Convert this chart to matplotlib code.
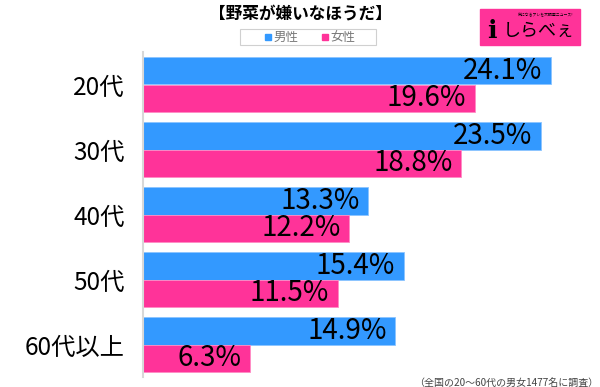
import matplotlib
matplotlib.use("Agg")
import matplotlib.pyplot as plt
from matplotlib.patches import Rectangle

plt.rcParams['font.family'] = ['Noto Sans CJK JP', 'DejaVu Sans']

# data
ages = ['20代', '30代', '40代', '50代', '60代以上']
male = [24.1, 23.5, 13.3, 15.4, 14.9]
female = [19.6, 18.8, 12.2, 11.5, 6.3]
title = '【野菜が嫌いなほうだ】'
note = '（全国の20〜60代の男女1477名に調査）'

blue = '#3399ff'
pink = '#ff3399'

fig = plt.figure(figsize=(6, 3.87), dpi=100)
ax = fig.add_axes([143 / 600, 1 - 377 / 387, 1 - 143 / 600, (377 - 52) / 387])

h = 0.417
pos = list(range(len(ages)))
ax.barh([p - h / 2 for p in pos], male, height=h, color=blue, edgecolor='#8cc4ff', linewidth=0.6)
ax.barh([p + h / 2 for p in pos], female, height=h, color=pink, edgecolor='#ff8cc4', linewidth=0.6)

for p, m, f in zip(pos, male, female):
    ax.annotate(f'{m}%', (m, p - h / 2), xytext=(-6, 0), textcoords='offset points',
                ha='right', va='center', fontsize=20, color='black')
    ax.annotate(f'{f}%', (f, p + h / 2), xytext=(-6, 0), textcoords='offset points',
                ha='right', va='center', fontsize=20, color='black')

ax.set_xlim(0, 27.0)
ax.set_ylim(len(ages) - 0.5, -0.5)
ax.set_yticks(pos)
ax.set_yticklabels(ages, fontsize=17.5)
ax.tick_params(axis='y', length=0, pad=13)
ax.set_xticks([])
for s in ['top', 'right', 'bottom']:
    ax.spines[s].set_visible(False)
ax.spines['left'].set_color('#d8d8d8')
ax.spines['left'].set_linewidth(1.5)

# title
fig.text(0.5, 1 - 14 / 387, title, ha='center', va='center', fontsize=12, fontweight='bold')

# legend box
fig.patches.append(Rectangle((240 / 600, 1 - 45 / 387), 136 / 600, 16 / 387,
                             transform=fig.transFigure, facecolor='white',
                             edgecolor='#d0d0d0', linewidth=0.8))
fig.patches.append(Rectangle((265 / 600, 1 - 40 / 387), 6 / 600, 6 / 387,
                             transform=fig.transFigure, color=blue))
fig.text(273 / 600, 1 - 37 / 387, '男性', ha='left', va='center', fontsize=9, color='#777777')
fig.patches.append(Rectangle((322 / 600, 1 - 40 / 387), 6 / 600, 6 / 387,
                             transform=fig.transFigure, color=pink))
fig.text(330 / 600, 1 - 37 / 387, '女性', ha='left', va='center', fontsize=9, color='#777777')

# logo
fig.patches.append(Rectangle((480 / 600, 1 - 45 / 387), 100 / 600, 36 / 387,
                             transform=fig.transFigure, color=pink))
fig.text(487 / 600, 1 - 31 / 387, 'i', ha='left', va='center', fontsize=18,
         fontweight='bold', color='black', family='DejaVu Serif')
fig.text(503 / 600, 1 - 31 / 387, 'しらべぇ', ha='left', va='center', fontsize=13, color='black')
fig.text(546 / 600, 1 - 15 / 387, '気になるアレを大調査ニュース!', ha='center', va='center',
         fontsize=2.8, color='black')

# footnote
fig.text(598 / 600, 1 - 383 / 387, note, ha='right', va='center', fontsize=7.2, color='#444444')

fig.savefig('out.png', dpi=100)
